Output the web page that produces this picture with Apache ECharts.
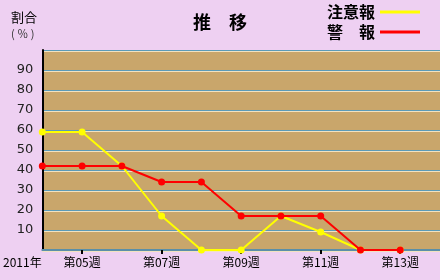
<!DOCTYPE html>
<html><head><meta charset="utf-8">
<script src="https://cdn.jsdelivr.net/npm/echarts@6/dist/echarts.min.js"></script>
<style>html,body{margin:0;padding:0;background:#eed0f2;}#c{width:440px;height:280px;}</style>
</head><body><div id="c"></div>
<script>
const categories = ['第04週','第05週','第06週','第07週','第08週','第09週','第10週','第11週','第12週','第13週','第14週'];
const xLabels = ['2011年','第05週','','第07週','','第09週','','第11週','','第13週',''];
const warnSeries = [42, 42, 42, 34, 34, 17, 17, 17, 0, 0, null];
const advisorySeries = [59, 59, 42, 17, 0, 0, 17, 9, 0, 0, null];
const yTicks = [10,20,30,40,50,60,70,80,90];
const seriesNames = ['注意報','警　報'];

const chart = echarts.init(document.getElementById('c'), null, {renderer:'canvas'});
const showIdx = (i) => i === 0 || i % 2 === 1;
chart.setOption({
  backgroundColor: '#eed0f2',
  animation: false,
  title: {
    text: '推　移', left: 'center', top: 8,
    textStyle: {fontSize: 18, fontWeight: 'bold', color: '#000', fontFamily: 'Noto Sans CJK JP'}
  },
  legend: {
    orient: 'vertical', right: 15, top: -1, align: 'right',
    itemWidth: 40, itemHeight: 3, itemGap: 4,
    icon: 'rect',
    textStyle: {fontSize: 16, fontWeight: 'bold', color: '#000', fontFamily: 'Noto Sans CJK JP'},
    data: seriesNames
  },
  graphic: [
    {type: 'text', left: 11, top: 11, style: {text: '割合', fontSize: 13, fill: '#000', fontFamily: 'Noto Sans CJK JP'}},
    {type: 'text', left: 11, top: 28, style: {text: '( ％ )', fontSize: 11, fill: '#333', fontFamily: 'Noto Sans CJK JP'}}
  ],
  grid: {left: 41, right: 0, top: 50, bottom: 30, show: true, backgroundColor: '#c9a66b', borderWidth: 0},
  xAxis: {
    type: 'category', data: categories, boundaryGap: false,
    axisLine: {lineStyle: {color: '#5b8fa8', width: 2}},
    axisTick: {show: true, length: 4, inside: false, alignWithLabel: true, interval: (i) => i % 2 === 1 && i > 0, lineStyle: {color: '#000', width: 2}},
    axisLabel: {
      interval: (i) => showIdx(i), margin: 6, color: '#000', fontSize: 12, fontFamily: 'Noto Sans CJK JP',
      formatter: (v, i) => i === 0 ? '{y|' + xLabels[0] + '}' : xLabels[i],
      rich: {y: {fontSize: 12, color: '#000', fontFamily: 'Noto Sans CJK JP', padding: [0, 40, 0, 0]}}
    },
    splitLine: {show: false}
  },
  yAxis: {
    type: 'value', min: 0, max: 100, interval: 10,
    axisLine: {show: true, lineStyle: {color: '#000', width: 2}},
    axisTick: {show: false},
    axisLabel: {color: '#222', fontSize: 13, margin: 9, fontFamily: 'DejaVu Sans',
      formatter: (v) => yTicks.indexOf(v) >= 0 ? String(v) : ''},
    splitLine: {show: true, lineStyle: {color: '#5b9bb8', width: 1, shadowColor: '#f2e2c0', shadowOffsetY: 1, shadowBlur: 0}}
  },
  series: [
    {name: seriesNames[0], type: 'line', data: advisorySeries, symbol: 'circle', symbolSize: 7,
      itemStyle: {color: '#ffff00'}, lineStyle: {color: '#ffff00', width: 2}, z: 2},
    {name: seriesNames[1], type: 'line', data: warnSeries, symbol: 'circle', symbolSize: 7,
      itemStyle: {color: '#ff0000'}, lineStyle: {color: '#ff0000', width: 2}, z: 3}
  ]
});
</script></body></html>
